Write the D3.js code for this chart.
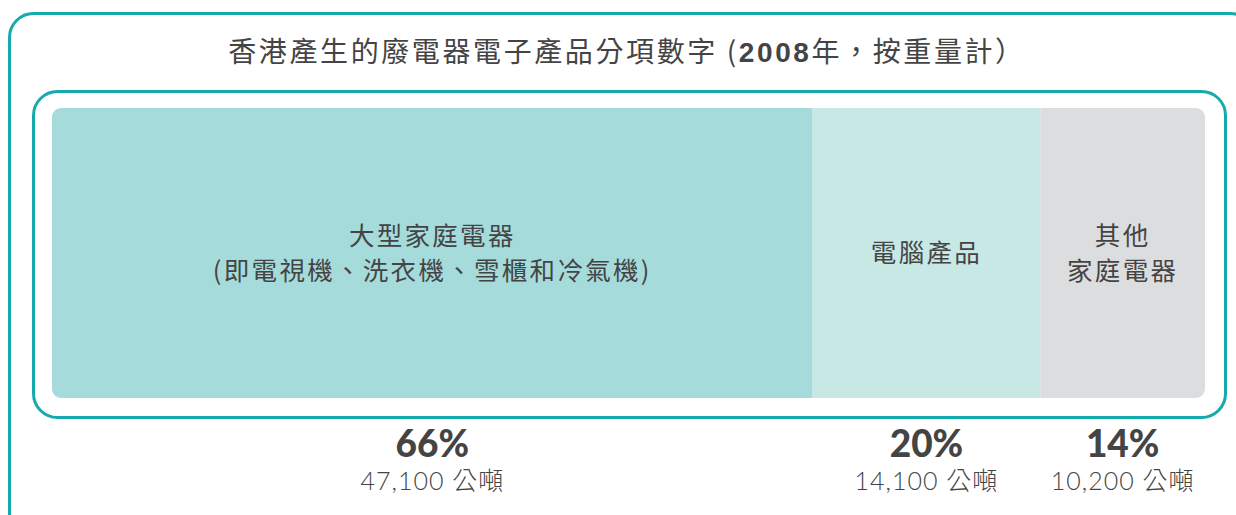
<!DOCTYPE html>
<html>
<head>
<meta charset="utf-8">
<script src="https://cdn.jsdelivr.net/npm/d3@7"></script>
<style>
  body { margin: 0; background: #fff; }
  svg text { fill: #444; }
</style>
</head>
<body>
<div id="chart"></div>
<script>
// waste electrical & electronic equipment, Hong Kong 2008 (by weight)
var categories = [["大型家庭電器", "(即電視機、洗衣機、雪櫃和冷氣機)"], ["電腦產品"], ["其他", "家庭電器"]];
var percents = [66, 20, 14];
var tonnes = [47100, 14100, 10200];
var colors = ["#a5dbdb", "#c8e8e6", "#dcdddf"];

var W = 1236, H = 515, teal = "#15abac";

var svg = d3.select("#chart").append("svg")
  .attr("width", W)
  .attr("height", H);

// outer frame runs off the page on the right and bottom
svg.append("rect")
  .attr("x", 9.5).attr("y", 13.5)
  .attr("width", 1245).attr("height", 525)
  .attr("rx", 24)
  .attr("fill", "none").attr("stroke", teal).attr("stroke-width", 3);

svg.append("rect")
  .attr("x", 33.5).attr("y", 91.5)
  .attr("width", 1192).attr("height", 326)
  .attr("rx", 24)
  .attr("fill", "none").attr("stroke", teal).attr("stroke-width", 3);

// title
var title = svg.append("text")
  .attr("x", 627).attr("y", 62)
  .attr("text-anchor", "middle")
  .style("font-family", "'Noto Sans CJK TC', sans-serif")
  .style("font-size", "28px")
  .style("letter-spacing", "2.6px");
title.append("tspan").text("香港產生的廢電器電子產品分項數字 (");
title.append("tspan").style("font-weight", "bold").style("font-family", "'Liberation Sans', sans-serif").text("2008");
title.append("tspan").text("年，按重量計）");

// stacked bar
var x0 = 52, x1 = 1205, barTop = 108, barH = 290;
var cum = d3.cumsum(tonnes);
var x = d3.scaleLinear().domain([0, d3.sum(tonnes)]).range([x0, x1]);
var segs = tonnes.map(function(t, i) {
  return { start: cum[i] - t, end: cum[i], i: i };
});

svg.append("clipPath").attr("id", "barclip")
  .append("rect")
  .attr("x", x0).attr("y", barTop)
  .attr("width", x1 - x0).attr("height", barH)
  .attr("rx", 9);

var bars = svg.append("g").attr("clip-path", "url(#barclip)");
bars.selectAll("rect").data(segs).enter().append("rect")
  .attr("x", function(d) { return x(d.start); })
  .attr("y", barTop)
  .attr("width", function(d) { return x(d.end) - x(d.start); })
  .attr("height", barH)
  .attr("fill", function(d) { return colors[d.i]; });

// labels inside the bar
var mid = function(d) { return (x(d.start) + x(d.end)) / 2; };
var lineH = 35, barMid = barTop + barH / 2;
svg.selectAll("text.cat").data(segs).enter().append("text")
  .attr("class", "cat")
  .attr("text-anchor", "middle")
  .style("font-family", "'Noto Sans CJK TC', sans-serif")
  .style("font-size", "25.5px")
  .style("letter-spacing", "2.3px")
  .each(function(d) {
    var lines = categories[d.i];
    var y0 = barMid - (lines.length - 1) * lineH / 2 + 9;
    d3.select(this).selectAll("tspan").data(lines).enter().append("tspan")
      .attr("x", mid(d))
      .attr("y", function(l, k) { return y0 + k * lineH; })
      .text(function(l) { return l; });
  });

// percentages and tonnage under the bar
svg.selectAll("text.pct").data(segs).enter().append("text")
  .attr("class", "pct")
  .attr("x", mid).attr("y", 457)
  .attr("text-anchor", "middle")
  .style("font-family", "Lato, sans-serif")
  .style("font-weight", "900")
  .style("font-size", "37px")
  .text(function(d) { return percents[d.i] + "%"; });

svg.selectAll("text.tn").data(segs).enter().append("text")
  .attr("class", "tn")
  .attr("x", mid).attr("y", 490)
  .attr("text-anchor", "middle")
  .style("font-family", "Lato, 'Noto Sans CJK TC', sans-serif")
  .style("font-weight", "300")
  .style("font-size", "25px")
  .style("letter-spacing", "1px")
  .text(function(d) { return d3.format(",")(tonnes[d.i]) + " 公噸"; });
</script>
</body>
</html>
